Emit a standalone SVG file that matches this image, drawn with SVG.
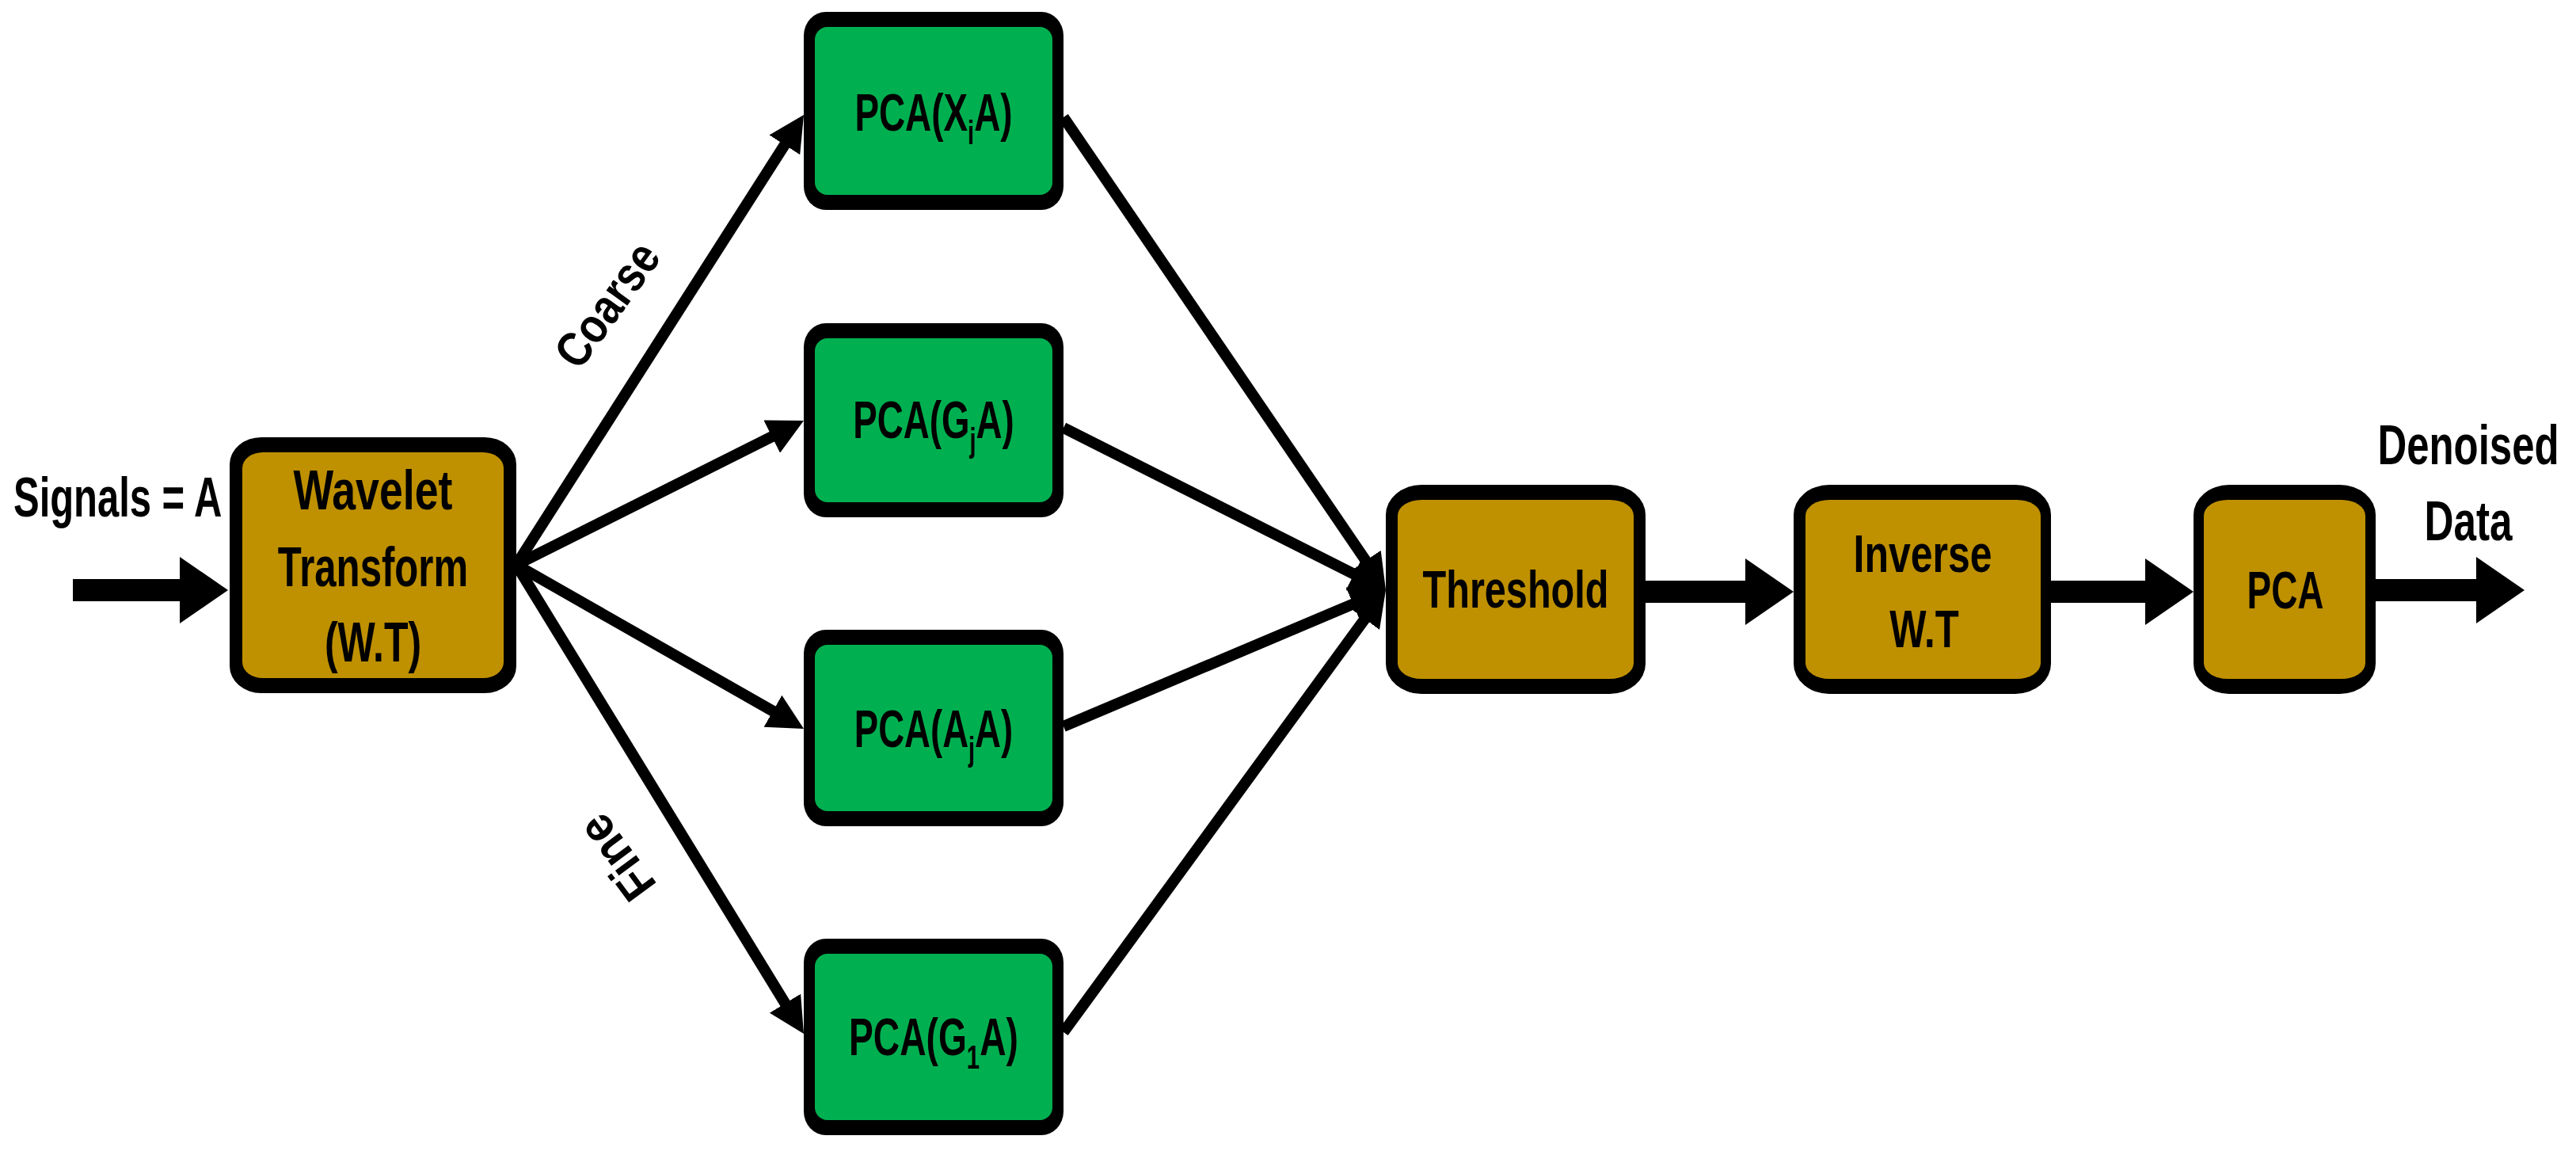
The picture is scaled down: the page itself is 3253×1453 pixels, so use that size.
<svg xmlns="http://www.w3.org/2000/svg" width="3253" height="1453" viewBox="0 0 3253 1453">
<style>
  .t { font-family: "Liberation Sans", Arial, sans-serif; font-weight: bold; fill: #000; }
  .m { text-anchor: middle; }
  .lbl { font-size: 70px; }
  .pca { font-size: 66px; }
  .sub { font-size: 42px; }
  .rot { font-size: 62px; }
  .outer { fill: #000; }
  .gold { fill: #BF9000; }
  .green { fill: #00B050; }
  .thin { stroke: #000; stroke-width: 14; fill: none; marker-end: url(#ah); }
  .thick { stroke: #000; stroke-width: 28; fill: none; marker-end: url(#bh); }
</style>
<defs>
  <marker id="ah" markerUnits="userSpaceOnUse" markerWidth="46" markerHeight="46" refX="5" refY="23" orient="auto" viewBox="0 0 46 46">
    <path d="M0,0 L45,23 L0,46 Z" fill="#000"/>
  </marker>
  <marker id="bh" markerUnits="userSpaceOnUse" markerWidth="62" markerHeight="84" refX="2" refY="42" orient="auto" viewBox="0 0 62 84">
    <path d="M0,0 L61,42 L0,84 Z" fill="#000"/>
  </marker>
</defs>
<rect width="3253" height="1453" fill="#fff"/>

<text class="t lbl" transform="translate(17,652) scale(0.699,1)">Signals = A</text>

<g id="wavelet">
  <rect class="outer" x="290" y="552" width="362" height="323" rx="40" ry="34"/>
  <rect class="gold" x="306" y="571" width="330" height="285" rx="26" ry="20"/>
  <text class="t m lbl" transform="translate(471,643) scale(0.767,1)">Wavelet</text>
  <text class="t m lbl" transform="translate(471,740) scale(0.702,1)">Transform</text>
  <text class="t m lbl" transform="translate(471,835) scale(0.715,1)">(W.T)</text>
</g>

<g id="pca-xi">
  <rect class="outer" x="1015" y="15" width="328" height="250" rx="28" ry="30"/>
  <rect class="green" x="1029" y="34" width="300" height="212" rx="16" ry="16"/>
  <text class="t m pca" transform="translate(1179,165) scale(0.695,1)">PCA(X<tspan class="sub" dy="17">i</tspan><tspan dy="-17">A)</tspan></text>
</g>
<g id="pca-gj">
  <rect class="outer" x="1015" y="408" width="328" height="245" rx="28" ry="30"/>
  <rect class="green" x="1029" y="427" width="300" height="207" rx="16" ry="16"/>
  <text class="t m pca" transform="translate(1179,553) scale(0.692,1)">PCA(G<tspan class="sub" dy="17">j</tspan><tspan dy="-17">A)</tspan></text>
</g>
<g id="pca-aj">
  <rect class="outer" x="1015" y="795" width="328" height="248" rx="28" ry="30"/>
  <rect class="green" x="1029" y="814" width="300" height="210" rx="16" ry="16"/>
  <text class="t m pca" transform="translate(1179,943) scale(0.69,1)">PCA(A<tspan class="sub" dy="17">j</tspan><tspan dy="-17">A)</tspan></text>
</g>
<g id="pca-g1">
  <rect class="outer" x="1015" y="1185" width="328" height="248" rx="28" ry="30"/>
  <rect class="green" x="1029" y="1204" width="300" height="210" rx="16" ry="16"/>
  <text class="t m pca" transform="translate(1179,1332) scale(0.70,1)">PCA(G<tspan class="sub" dy="17">1</tspan><tspan dy="-17">A)</tspan></text>
</g>

<g id="threshold">
  <rect class="outer" x="1750" y="612" width="328" height="264" rx="45" ry="38"/>
  <rect class="gold" x="1765" y="631" width="298" height="226" rx="30" ry="20"/>
  <text class="t m pca" transform="translate(1914,767) scale(0.737,1)">Threshold</text>
</g>
<g id="inverse-wt">
  <rect class="outer" x="2265" y="612" width="325" height="264" rx="45" ry="38"/>
  <rect class="gold" x="2280" y="631" width="297" height="226" rx="30" ry="20"/>
  <text class="t m pca" transform="translate(2428,722) scale(0.757,1)">Inverse</text>
  <text class="t m pca" transform="translate(2430,817) scale(0.744,1)">W.T</text>
</g>
<g id="pca-final">
  <rect class="outer" x="2770" y="612" width="230" height="264" rx="45" ry="38"/>
  <rect class="gold" x="2783" y="631" width="204" height="226" rx="30" ry="20"/>
  <text class="t m pca" transform="translate(2886,768) scale(0.696,1)">PCA</text>
</g>

<text class="t m lbl" transform="translate(3117,586) scale(0.727,1)">Denoised</text>
<text class="t m lbl" transform="translate(3117,682) scale(0.732,1)">Data</text>

<text class="t m rot" transform="translate(784,397) rotate(-54) scale(0.85,1)">Coarse</text>
<text class="t m rot" transform="translate(796,1070) rotate(-126.5) scale(0.92,1)">Fine</text>

<g id="connectors">
  <line class="thick" x1="92" y1="745" x2="229" y2="745"/>
  <line class="thin" x1="652" y1="713" x2="993.5" y2="178.7"/>
  <line class="thin" x1="652" y1="713" x2="979.2" y2="548.9"/>
  <line class="thin" x1="652" y1="713" x2="980.3" y2="900.2"/>
  <line class="thin" x1="652" y1="713" x2="994.1" y2="1270.9"/>
  <line class="thin" x1="1343" y1="148" x2="1727.5" y2="711.9"/>
  <line class="thin" x1="1343" y1="540" x2="1714.3" y2="727.0"/>
  <line class="thin" x1="1343" y1="917" x2="1713.2" y2="760.6"/>
  <line class="thin" x1="1343" y1="1303" x2="1726.4" y2="777.3"/>
  <line class="thick" x1="2078" y1="747" x2="2206" y2="747"/>
  <line class="thick" x1="2590" y1="747" x2="2711" y2="747"/>
  <line class="thick" x1="3000" y1="745" x2="3129" y2="745"/>
</g>
</svg>
